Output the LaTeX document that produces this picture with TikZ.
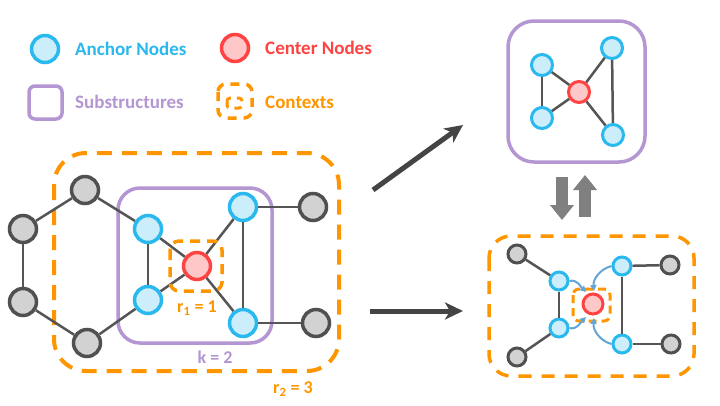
\documentclass[tikz,border=0pt]{standalone}
\usepackage{fontspec}
\setmainfont{Carlito}
\usetikzlibrary{arrows.meta}
\definecolor{anc}{RGB}{41,185,238}
\definecolor{ancfill}{RGB}{204,238,250}
\definecolor{cen}{RGB}{255,66,66}
\definecolor{cenfill}{RGB}{255,200,200}
\definecolor{gbd}{RGB}{80,80,80}
\definecolor{gfill}{RGB}{210,210,210}
\definecolor{subc}{RGB}{180,150,210}
\definecolor{ctx}{RGB}{255,150,0}
\definecolor{edgec}{RGB}{85,85,85}
\definecolor{darr}{RGB}{68,68,68}
\definecolor{barr}{RGB}{128,128,128}
\definecolor{curv}{RGB}{100,165,215}
\begin{document}
\begin{tikzpicture}[x=1pt,y=-1pt,
  gnode/.style={circle,draw=gbd,fill=gfill,line width=3.5pt,minimum size=27pt,inner sep=0pt},
  anode/.style={circle,draw=anc,fill=ancfill,line width=3.5pt,minimum size=27pt,inner sep=0pt},
  cnode/.style={circle,draw=cen,fill=cenfill,line width=3.5pt,minimum size=27pt,inner sep=0pt},
  mid/.style={line width=3pt,minimum size=21pt},
  sml/.style={line width=3pt,minimum size=18pt},
  edge/.style={draw=edgec,line width=2.5pt},
  subbox/.style={draw=subc,line width=3.5pt},
  ctxbox/.style={draw=ctx,line width=4pt,dash pattern=on 15pt off 10pt},
  ctxsmall/.style={draw=ctx,line width=3.5pt,dash pattern=on 10pt off 7pt},
  lbl/.style={font=\fontsize{19}{21}\selectfont\bfseries,anchor=west,inner sep=0pt},
  sublbl/.style={font=\fontsize{18}{20}\selectfont\bfseries,inner sep=0pt},
  bigarrow/.style={draw=darr,line width=5pt,-{Stealth[length=18pt,width=17pt,inset=5pt]}},
  blockarrow/.style={draw=barr,line width=12pt,-{Triangle[length=15pt,width=23pt]}},
  curvarrow/.style={draw=curv,line width=2pt,-{Triangle[length=6pt,width=6pt]}}
]
\useasboundingbox (0,0) rectangle (720,405);
\fill[white] (0,0) rectangle (720,405);

% ---------- legend ----------
\node[anode] (la) at (45,49) {};
\node[lbl,text=anc] (lat) at (75,49) {Anchor Nodes};
\node[cnode] (lc) at (235,48) {};
\node[lbl,text=cen] (lct) at (265,48) {Center Nodes};
\draw[subbox,rounded corners=6pt] (29,86) rectangle (62,119);
\node[lbl,text=subc] (lst) at (75,102) {Substructures};
\draw[draw=ctx,line width=3.5pt,dash pattern=on 9pt off 7pt,rounded corners=8pt] (218,84) rectangle (252,118);
\draw[draw=ctx,line width=3pt,dash pattern=on 7pt off 6pt,rounded corners=3pt] (227,98) rectangle (242,108);
\node[lbl,text=ctx] (lxt) at (265,102) {Contexts};

% ---------- left graph ----------
\draw[ctxbox,rounded corners=32pt] (54,153) rectangle (339,371);
\draw[subbox,rounded corners=22pt] (118,188) rectangle (272,343);

\node[gnode] (g1) at (85,190) {};
\node[gnode] (g2) at (23,229) {};
\node[gnode] (g3) at (23,302) {};
\node[gnode] (g4) at (87,343) {};
\node[gnode] (g5) at (313,207) {};
\node[gnode] (g6) at (316,323) {};
\node[anode] (a1) at (148,229) {};
\node[anode] (a2) at (148,300) {};
\node[anode] (a3) at (243,207) {};
\node[anode] (a4) at (243,323) {};
\node[cnode] (c1) at (197,266) {};

\draw[edge] (g1) -- (g2);
\draw[edge] (g2) -- (g3);
\draw[edge] (g3) -- (g4);
\draw[edge] (g1) -- (a1);
\draw[edge] (g4) -- (a2);
\draw[edge] (a1) -- (a2);
\draw[edge] (a1) -- (c1);
\draw[edge] (a2) -- (c1);
\draw[edge] (c1) -- (a3);
\draw[edge] (c1) -- (a4);
\draw[edge] (a3) -- (a4);
\draw[edge] (a3) -- (g5);
\draw[edge] (a4) -- (g6);

\draw[ctxsmall,rounded corners=9pt] (170,241) rectangle (222,291);

\node[sublbl,text=ctx] (r1) at (197,308) {r\textsubscript{1} = 1};
\node[sublbl,text=subc] (kl) at (215,357) {k = 2};
\node[sublbl,text=ctx] (r2) at (293,389) {r\textsubscript{2} = 3};

% ---------- arrows between panels ----------
\coordinate (s1) at (373,190);
\coordinate (e1) at (463,125);
\coordinate (s2) at (370,311);
\coordinate (e2) at (463,311);
\draw[bigarrow] (s1) -- (e1);
\draw[bigarrow] (s2) -- (e2);

\coordinate (d1) at (562,177);
\coordinate (d2) at (562,220);
\coordinate (u1) at (585,217);
\coordinate (u2) at (585,175);
\draw[blockarrow] (d1) -- (d2);
\draw[blockarrow] (u1) -- (u2);

% ---------- top-right substructure ----------
\draw[subbox,rounded corners=26pt] (508,21) rectangle (645,162);
\node[anode,mid] (b1) at (542,65) {};
\node[anode,mid] (b2) at (542,118) {};
\node[anode,mid] (b3) at (612,48) {};
\node[anode,mid] (b4) at (613,135) {};
\node[cnode,mid] (c2) at (579,92) {};
\draw[edge] (b1) -- (b2);
\draw[edge] (b1) -- (c2);
\draw[edge] (b2) -- (c2);
\draw[edge] (c2) -- (b3);
\draw[edge] (c2) -- (b4);
\draw[edge] (b3) -- (b4);

% ---------- bottom-right context ----------
\draw[draw=ctx,line width=3.5pt,dash pattern=on 13pt off 10pt,rounded corners=22pt] (489,236) rectangle (694,376);
\node[gnode,sml] (h1) at (517,254) {};
\node[gnode,sml] (h2) at (670,265) {};
\node[gnode,sml] (h3) at (517,357) {};
\node[gnode,sml] (h4) at (671,344) {};
\node[anode,sml] (d1n) at (559,281) {};
\node[anode,sml] (d2n) at (559,328) {};
\node[anode,sml] (d3n) at (622,266) {};
\node[anode,sml] (d4n) at (622,344) {};
\node[cnode,sml,minimum size=20pt] (c3) at (593,304) {};
\draw[edge] (h1) -- (d1n);
\draw[edge] (d1n) -- (d2n);
\draw[edge] (d2n) -- (h3);
\draw[edge] (d3n) -- (h2);
\draw[edge] (d3n) -- (d4n);
\draw[edge] (d4n) -- (h4);
\draw[draw=ctx,line width=3pt,dash pattern=on 8pt off 5pt,rounded corners=6pt] (573,289) rectangle (610,321);

\coordinate (t1) at (586,292);
\coordinate (t2) at (594,291);
\coordinate (t3) at (586,317);
\coordinate (t4) at (594,318);
\draw[curvarrow] (d1n.east) to[out=15,in=135] (t1);
\draw[curvarrow] (d3n.west) to[out=195,in=95] (t2);
\draw[curvarrow] (d2n.east) to[out=-15,in=-135] (t3);
\draw[curvarrow] (d4n.west) to[out=165,in=-95] (t4);
\end{tikzpicture}
\end{document}
